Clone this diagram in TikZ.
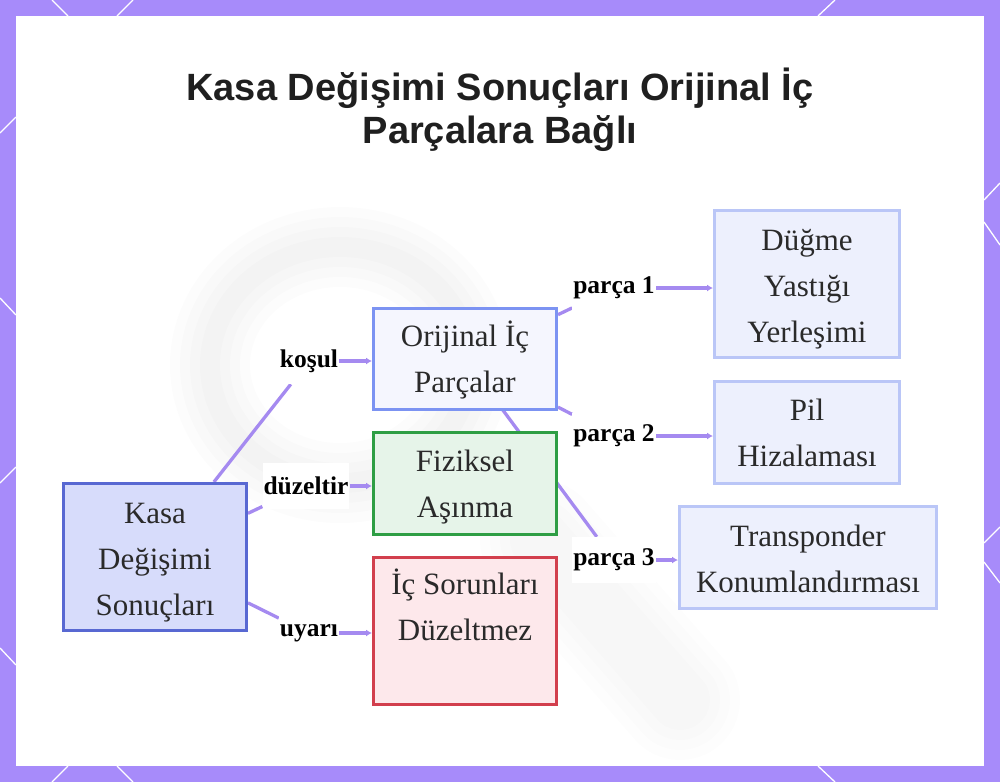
\documentclass[tikz,border=0pt]{standalone}
\usepackage{fontspec}
\setmainfont{Liberation Serif}
\newfontfamily\titlefont{Liberation Sans}
\usetikzlibrary{arrows.meta}
\pgfdeclarelayer{bg}
\pgfdeclarelayer{edges}
\pgfsetlayers{bg,edges,main}
\definecolor{frame}{HTML}{A78BFA}
\definecolor{edgec}{HTML}{A58AF0}
\definecolor{txt}{HTML}{2A2A2A}
\definecolor{kasaF}{HTML}{D7DCFB}
\definecolor{kasaD}{HTML}{5868D2}
\definecolor{origF}{HTML}{F5F6FE}
\definecolor{origD}{HTML}{7C93F2}
\definecolor{fizF}{HTML}{E6F4E9}
\definecolor{fizD}{HTML}{2E9E44}
\definecolor{icF}{HTML}{FDE8EB}
\definecolor{icD}{HTML}{D23F4D}
\definecolor{subF}{HTML}{EDF0FD}
\definecolor{subD}{HTML}{BAC6F7}
\tikzset{
  box/.style={draw, line width=3pt, inner sep=0pt},
  btxt/.style={align=center, text=txt, inner sep=0pt,
    font=\fontsize{31}{46}\selectfont},
  lbl/.style={fill=white, text=black, inner xsep=1pt, inner ysep=0pt,
    minimum height=46pt, font=\bfseries\fontsize{25.5}{30}\selectfont},
  conn/.style={draw=edgec, line width=3.3pt},
  arr/.style={conn, -{Latex[length=6pt,width=7pt]}},
  deco/.style={white, line width=1.3pt}
}
\begin{document}
\begin{tikzpicture}[x=1pt,y=-1pt]
\useasboundingbox (0,0) rectangle (1000,782);
\begin{pgfonlayer}{bg}
  \fill[frame] (0,0) rectangle (1000,782);
  \draw[deco] (52,0) -- (68,16);
  \draw[deco] (133,0) -- (117,16);
  \draw[deco] (835,0) -- (818,16);
  \draw[deco] (0,133) -- (16,117);
  \draw[deco] (0,298) -- (16,315);
  \draw[deco] (0,483) -- (16,467);
  \draw[deco] (0,648) -- (16,665);
  \draw[deco] (52,782) -- (68,766);
  \draw[deco] (117,766) -- (133,782);
  \draw[deco] (818,766) -- (835,782);
  \draw[deco] (1000,183) -- (984,200);
  \draw[deco] (984,222) -- (1000,245);
  \draw[deco] (1000,527) -- (984,543);
  \draw[deco] (984,562) -- (1000,583);
  \fill[white] (16,16) rectangle (984,766);
  \foreach \w in {80,60,40,20}{
    \draw[black, opacity=0.011, line width=\w pt] (340,365) ellipse [x radius=130, y radius=118];
    \draw[black, opacity=0.009, line width=\w pt+40pt, line cap=round] (540,540) -- (680,700);
  }
\end{pgfonlayer}

\node[font=\titlefont\bfseries\fontsize{38}{43}\selectfont, align=center, text=black!88]
  (title) at (500,110) {Kasa Değişimi Sonuçları Orijinal İç\\Parçalara Bağlı};

\node[box, fill=kasaF, draw=kasaD, minimum width=183pt, minimum height=147pt] (kasa) at (155,557) {};
\node[box, fill=origF, draw=origD, minimum width=183pt, minimum height=101pt] (orig) at (465,359) {};
\node[box, fill=fizF, draw=fizD, minimum width=183pt, minimum height=102pt] (fiz) at (465,483.5) {};
\node[box, fill=icF, draw=icD, minimum width=183pt, minimum height=147pt] (ic) at (465,631) {};
\node[box, fill=subF, draw=subD, minimum width=185pt, minimum height=147pt] (dugme) at (807,284) {};
\node[box, fill=subF, draw=subD, minimum width=185pt, minimum height=102pt] (pil) at (807,432.5) {};
\node[box, fill=subF, draw=subD, minimum width=257pt, minimum height=102pt] (trans) at (808,557.5) {};

\node[btxt] (kasa-t) at ([yshift=-6pt]kasa.center) {Kasa\\Değişimi\\Sonuçları};
\node[btxt] (orig-t) at ([yshift=-1pt]orig.center) {Orijinal İç\\Parçalar};
\node[btxt] (fiz-t) at ([yshift=-4pt]fiz.center) {Fiziksel\\Aşınma};
\node[btxt] (ic-t) at ([yshift=3pt]ic.center) {İç Sorunları\\Düzeltmez\\\phantom{X}};
\node[btxt] (dugme-t) at ([yshift=-5pt]dugme.center) {Düğme\\Yastığı\\Yerleşimi};
\node[btxt] (pil-t) at (pil.center) {Pil\\Hizalaması};
\node[btxt] (trans-t) at ([yshift=-1pt]trans.center) {Transponder\\Konumlandırması};

\node[lbl] (lkosul) at (309,361) {koşul};
\node[lbl] (lduz) at (306,486) {düzeltir};
\node[lbl] (luyari) at (309,633) {uyarı};
\node[lbl] (lp1) at (614,288) {parça 1};
\node[lbl] (lp2) at (614,436) {parça 2};
\node[lbl] (lp3) at (614,560) {parça 3};

\begin{pgfonlayer}{edges}
  \draw[conn] (kasa) -- (lkosul);
  \draw[arr] (lkosul.east) -- (lkosul.east -| orig.west);
  \draw[conn] (kasa) -- (lduz);
  \draw[arr] (lduz.east) -- (lduz.east -| fiz.west);
  \draw[conn] (kasa) -- (luyari);
  \draw[arr] (luyari.east) -- (luyari.east -| ic.west);
  \draw[conn] (orig) -- (lp1);
  \draw[arr] (lp1.east) -- (lp1.east -| dugme.west);
  \draw[conn] (orig) -- (lp2);
  \draw[arr] (lp2.east) -- (lp2.east -| pil.west);
  \draw[conn] (orig.center) -- (lp3);
  \draw[arr] (lp3.east) -- (lp3.east -| trans.west);
\end{pgfonlayer}
\end{tikzpicture}
\end{document}
